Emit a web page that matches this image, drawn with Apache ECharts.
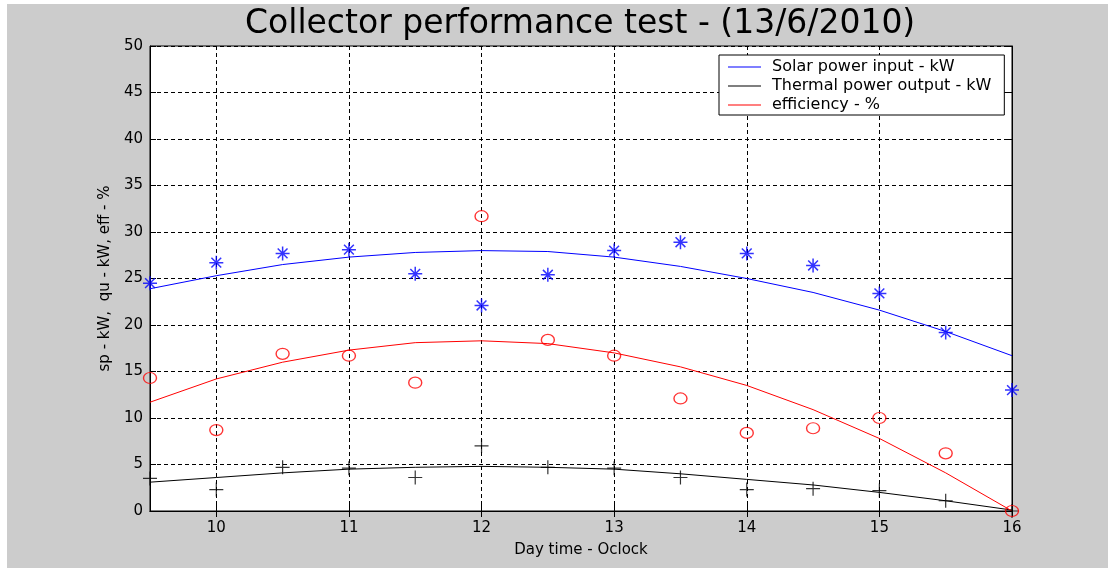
<!DOCTYPE html>
<html>
<head>
<meta charset="utf-8">
<script src="https://cdn.jsdelivr.net/npm/echarts@6/dist/echarts.min.js"></script>
<style>
  body { margin: 0; background: #fff; }
  #chart { position: absolute; left: 7px; top: 4px; width: 1101px; height: 564px; background: #cccccc; }
</style>
</head>
<body>
<div id="chart"></div>
<script>
// 时间点 (Day time - Oclock)
const hours = [9.5, 10, 10.5, 11, 11.5, 12, 12.5, 13, 13.5, 14, 14.5, 15, 15.5, 16]
const xTicks = [10, 11, 12, 13, 14, 15, 16]
// measured points
const solarPts = [24.5, 26.7, 27.7, 28.1, 25.5, 22.1, 25.4, 28.0, 28.9, 27.7, 26.4, 23.4, 19.2, 13.0]
const thermalPts = [3.5, 2.3, 4.7, 4.6, 3.6, 7.0, 4.7, 4.6, 3.6, 2.3, 2.4, 2.2, 1.1, 0.0]
const effPts = [14.3, 8.7, 16.9, 16.7, 13.8, 31.7, 18.4, 16.7, 12.1, 8.4, 8.9, 10.0, 6.2, 0.0]
// fitted curves
const solarFit = [23.9, 25.3, 26.5, 27.3, 27.8, 28.0, 27.9, 27.3, 26.3, 25.0, 23.5, 21.6, 19.3, 16.7]
const thermalFit = [3.1, 3.6, 4.1, 4.5, 4.7, 4.8, 4.7, 4.5, 4.0, 3.4, 2.8, 2.0, 1.1, 0.1]
const effFit = [11.7, 14.2, 16.0, 17.3, 18.1, 18.3, 18.0, 17.0, 15.5, 13.5, 10.9, 7.8, 4.1, 0.0]

const pair = (ys) => hours.map((h, i) => [h, ys[i]])
const font = 'DejaVu Sans, sans-serif'
const starPath = 'path://M0,-6L0,6M-6,0L6,0M-4.2,-4.2L4.2,4.2M-4.2,4.2L4.2,-4.2'
const plusPath = 'path://M0,-6L0,6M-6,0L6,0'

const chart = echarts.init(document.getElementById('chart'))

const gridLine = { show: true, lineStyle: { color: '#000', type: [4, 3], width: 1 } }

const option = {
  animation: false,
  textStyle: { fontFamily: font },
  title: {
    text: 'Collector performance test - (13/6/2010)',
    left: 233,
    top: -1,
    textStyle: { fontSize: 33, fontWeight: 'normal', color: '#000', fontFamily: font },
  },
  legend: {
    orient: 'vertical',
    left: 712,
    top: 51,
    padding: [3, 13, 1, 9],
    itemGap: 1,
    itemWidth: 33,
    itemHeight: 1,
    icon: 'rect',
    backgroundColor: '#fff',
    borderColor: '#000',
    borderWidth: 1,
    borderRadius: 0,
    textStyle: { fontSize: 16, lineHeight: 18, color: '#000', fontFamily: font, padding: [0, 0, 0, 6] },
    data: ['Solar power input - kW', 'Thermal power output - kW', 'efficiency - %'],
  },
  grid: {
    left: 143,
    right: 96,
    top: 42,
    bottom: 57,
    show: true,
    backgroundColor: '#fff',
    borderColor: '#000',
    borderWidth: 1,
  },
  xAxis: [
    {
      type: 'value',
      min: 9.5,
      max: 16,
      name: 'Day time - Oclock',
      nameLocation: 'middle',
      nameGap: 32,
      nameTextStyle: { fontSize: 15, color: '#000' },
      axisLine: { lineStyle: { color: '#000' } },
      axisTick: { inside: true, length: 6, customValues: xTicks, lineStyle: { color: '#000' } },
      axisLabel: { customValues: xTicks, fontSize: 15, color: '#000', margin: 10 },
      splitLine: gridLine,
    },
    {
      type: 'value',
      position: 'top',
      min: 9.5,
      max: 16,
      axisLine: { lineStyle: { color: '#000' } },
      axisTick: { inside: true, length: 6, customValues: xTicks, lineStyle: { color: '#000' } },
      axisLabel: { show: false },
      splitLine: { show: false },
    },
  ],
  yAxis: [
    {
      type: 'value',
      min: 0,
      max: 50,
      interval: 5,
      name: 'sp - kW,  qu - kW, eff - %',
      nameLocation: 'middle',
      nameGap: 36,
      nameTextStyle: { fontSize: 15, color: '#000' },
      axisLine: { show: true, lineStyle: { color: '#000' } },
      axisTick: { show: true, inside: true, length: 6, lineStyle: { color: '#000' } },
      axisLabel: { fontSize: 15, color: '#000', margin: 7 },
      splitLine: gridLine,
    },
    {
      type: 'value',
      position: 'right',
      min: 0,
      max: 50,
      interval: 5,
      axisLine: { show: true, lineStyle: { color: '#000' } },
      axisTick: { show: true, inside: true, length: 6, lineStyle: { color: '#000' } },
      axisLabel: { show: false },
      splitLine: { show: false },
    },
  ],
  series: [
    {
      name: 'Solar power input - kW',
      type: 'line',
      symbol: 'none',
      color: '#0000ff',
      lineStyle: { width: 1, color: '#0000ff' },
      data: pair(solarFit),
    },
    {
      name: 'Thermal power output - kW',
      type: 'line',
      symbol: 'none',
      color: '#000',
      lineStyle: { width: 1, color: '#000' },
      data: pair(thermalFit),
    },
    {
      name: 'efficiency - %',
      type: 'line',
      symbol: 'none',
      color: '#ff0000',
      lineStyle: { width: 1, color: '#ff0000' },
      data: pair(effFit),
    },
    {
      name: 'sp',
      type: 'scatter',
      symbol: starPath,
      symbolSize: 14,
      itemStyle: { color: '#0000ff', borderColor: '#0000ff', borderWidth: 1.5 },
      data: pair(solarPts),
      z: 5,
    },
    {
      name: 'qu',
      type: 'scatter',
      symbol: plusPath,
      symbolSize: 14,
      itemStyle: { color: '#000', borderColor: '#000', borderWidth: 1.2 },
      data: pair(thermalPts),
      z: 5,
    },
    {
      name: 'eff',
      type: 'scatter',
      symbol: 'circle',
      symbolSize: [13, 11],
      itemStyle: { color: 'rgba(0,0,0,0)', borderColor: '#ff0000', borderWidth: 1.3 },
      data: pair(effPts),
      z: 5,
    },
  ],
}

chart.setOption(option)
</script>
</body>
</html>
